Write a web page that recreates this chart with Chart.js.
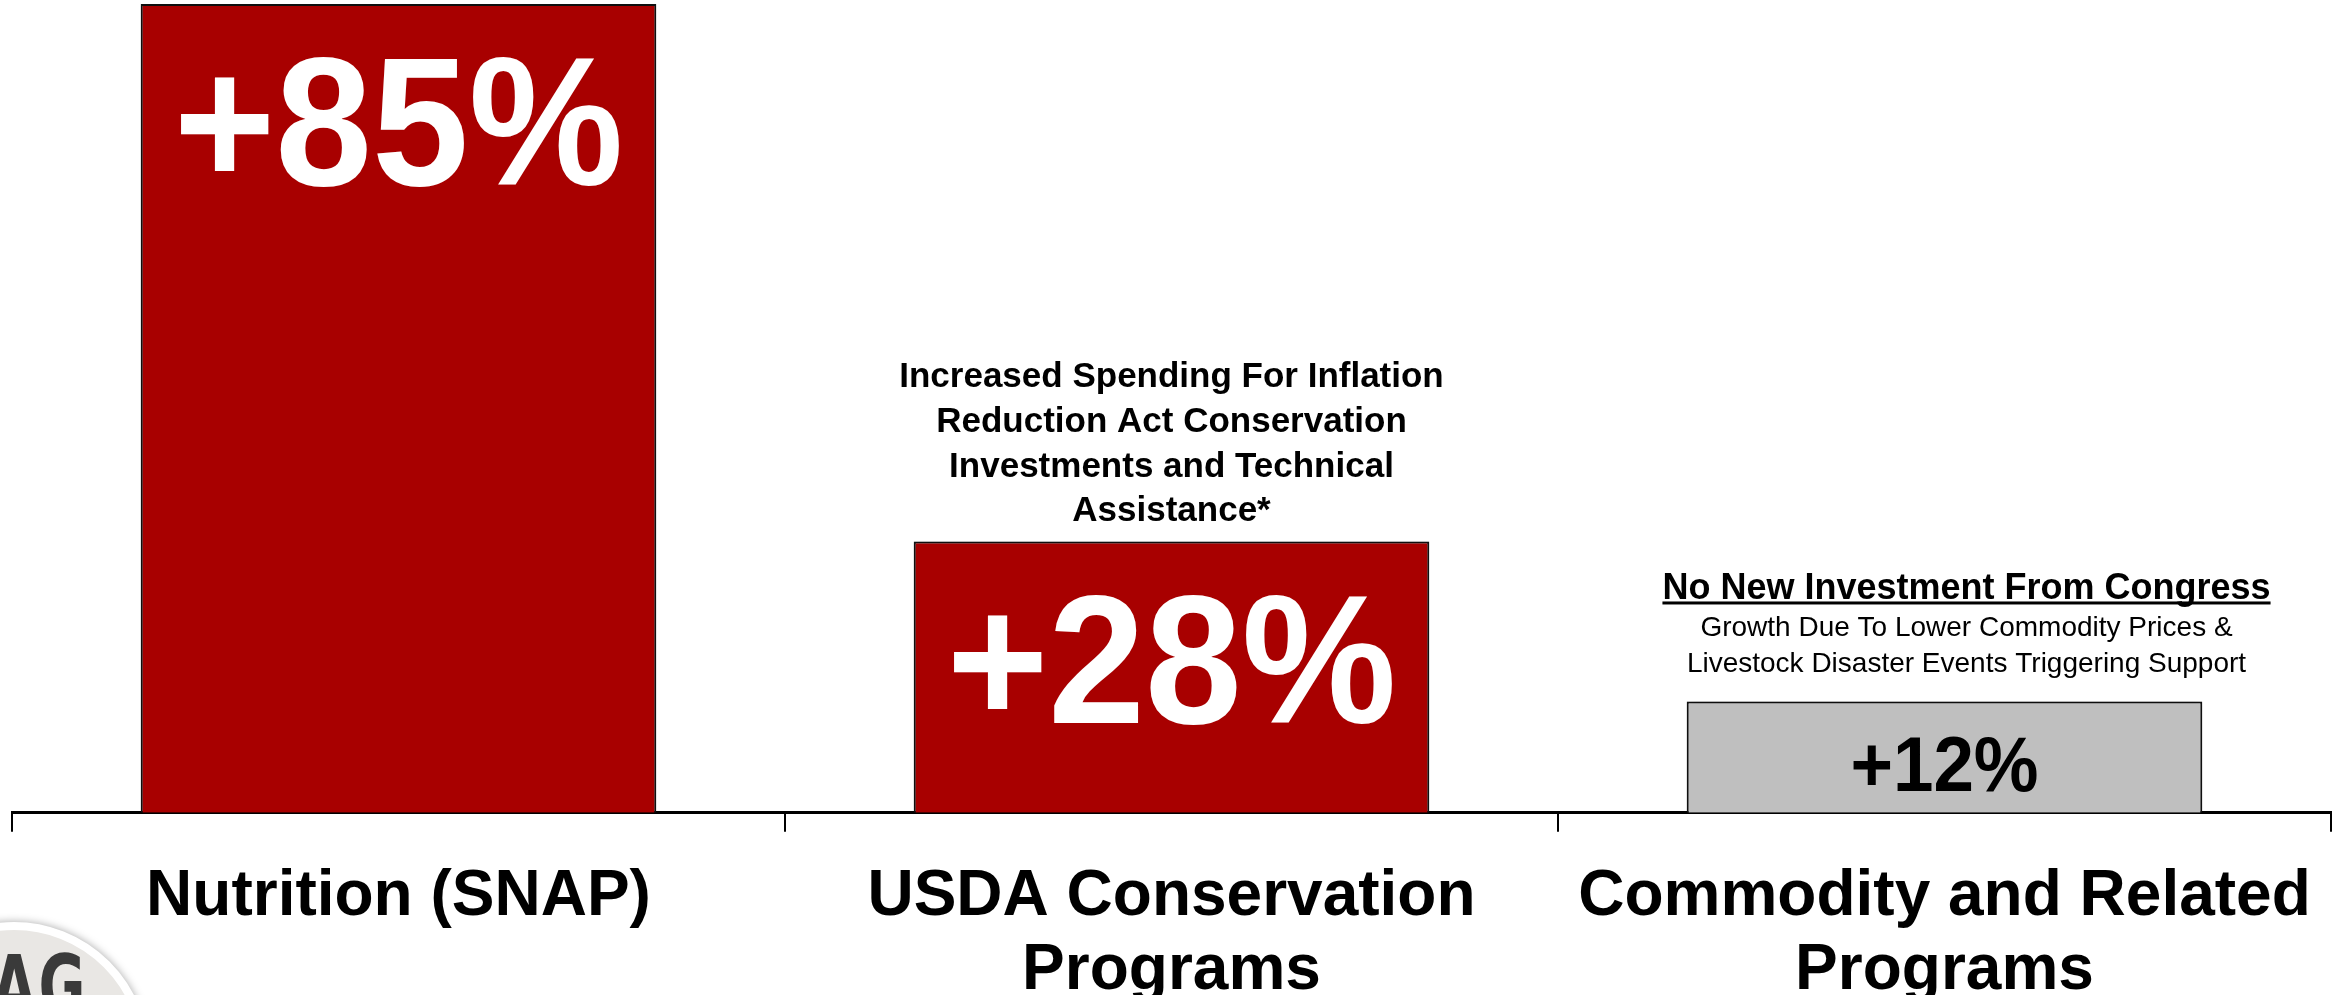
<!DOCTYPE html>
<html>
<head>
<meta charset="utf-8">
<script src="https://cdn.jsdelivr.net/npm/chart.js@4.4.0/dist/chart.umd.min.js"></script>
<style>
    html, body { margin: 0; padding: 0; background: #fff; overflow: hidden; }
    #wrap { position: relative; width: 2343px; height: 1037px; }
    #logo {
        position: absolute; left: -121px; top: 922px; width: 254px; height: 254px;
        border-radius: 50%; border: 8px solid #fff; background: #e9e7e4;
        box-shadow: 0 0 9px rgba(0, 0, 0, 0.35);
    }
    #logoText {
        position: absolute; left: -8px; top: 943px; margin: 0;
        font-family: 'DejaVu Sans Condensed', 'DejaVu Sans', sans-serif; font-weight: bold;
        font-size: 86px; line-height: 1; color: #3a3a3a; letter-spacing: 3px;
        transform: scaleX(0.74); transform-origin: left top;
    }
</style>
</head>
<body>
<div id="wrap">
    <canvas id="farmBill" width="2343" height="1037"></canvas>
    <div id="logo"></div>
    <div id="logoText">AG</div>
</div>
<script>
let categories = [
    ['Nutrition (SNAP)'],
    ['USDA Conservation', 'Programs'],
    ['Commodity and Related', 'Programs']
];
let growth = [85, 28.5, 11.7];
let growthLabels = ['+85%', '+28%', '+12%'];
let barColors = ['#A80000', '#A80000', '#BFBFBF'];

let conservationNote = [
    'Increased Spending For Inflation',
    'Reduction Act Conservation',
    'Investments and Technical',
    'Assistance*'
];
let commodityHeading = 'No New Investment From Congress';
let commodityNote = [
    'Growth Due To Lower Commodity Prices &',
    'Livestock Disaster Events Triggering Support'
];

document.addEventListener('DOMContentLoaded', () => {
    // labels inside the bars and notes above them
    let barText = {
        id: 'barText',
        beforeDatasetsDraw(chart) {
            let ctx = chart.ctx;
            ctx.save();
            ctx.shadowColor = 'rgba(0, 0, 0, 0.3)';
            ctx.shadowBlur = 7;
        },
        afterDatasetsDraw(chart) {
            let ctx = chart.ctx;
            ctx.restore();
            let bars = chart.getDatasetMeta(0).data;
            let styles = [
                { size: 184, color: '#ffffff', dy: 181 },
                { size: 184, color: '#ffffff', dy: 181 },
                { size: 77, color: '#000000', dy: 90 }
            ];

            ctx.save();
            ctx.textAlign = 'center';
            ctx.textBaseline = 'alphabetic';
            bars.forEach((bar, i) => {
                let s = styles[i];
                ctx.save();
                ctx.translate(bar.x, bar.y + s.dy);
                ctx.scale(0.945, 1);
                ctx.fillStyle = s.color;
                ctx.font = 'bold ' + s.size + 'px "Liberation Sans", Arial, sans-serif';
                ctx.fillText(growthLabels[i], 0, 0);
                ctx.restore();
            });

            ctx.fillStyle = '#000';
            let b2 = bars[1];
            ctx.font = 'bold 35px "Liberation Sans", Arial, sans-serif';
            [-155, -110, -65, -21].forEach((dy, i) => {
                ctx.fillText(conservationNote[i], b2.x, b2.y + dy);
            });

            let b3 = bars[2];
            let cx = b3.x + 22;
            ctx.font = 'bold 36px "Liberation Sans", Arial, sans-serif';
            ctx.fillText(commodityHeading, cx, b3.y - 102);
            let w = ctx.measureText(commodityHeading).width;
            ctx.fillRect(cx - w / 2, b3.y - 100, w, 3);

            ctx.font = '28px "Liberation Sans", Arial, sans-serif';
            ctx.fillText(commodityNote[0], cx, b3.y - 65);
            ctx.fillText(commodityNote[1], cx, b3.y - 29);
            ctx.restore();
        }
    };

    let ctx = document.getElementById('farmBill').getContext('2d');
    new Chart(ctx, {
        type: 'bar',
        data: {
            labels: categories,
            datasets: [{
                data: growth,
                backgroundColor: barColors,
                borderColor: '#111111',
                borderWidth: 2,
                barPercentage: 0.667,
                categoryPercentage: 1
            }]
        },
        options: {
            responsive: false,
            animation: false,
            devicePixelRatio: 1,
            layout: { padding: { left: 12, right: 12, top: 4, bottom: 0 } },
            plugins: {
                legend: { display: false },
                tooltip: { enabled: false }
            },
            scales: {
                x: {
                    grid: {
                        display: true,
                        offset: true,
                        drawOnChartArea: false,
                        drawTicks: true,
                        tickLength: 19,
                        color: '#000',
                        lineWidth: 2
                    },
                    border: { display: true, color: '#000', width: 3 },
                    ticks: {
                        color: '#000',
                        padding: 29,
                        maxRotation: 0,
                        font: { family: '"Liberation Sans", Arial, sans-serif', size: 64, weight: 'bold', lineHeight: 1.15 }
                    }
                },
                y: {
                    display: false,
                    min: 0,
                    max: 85
                }
            }
        },
        plugins: [barText]
    });
});
</script>
</body>
</html>
